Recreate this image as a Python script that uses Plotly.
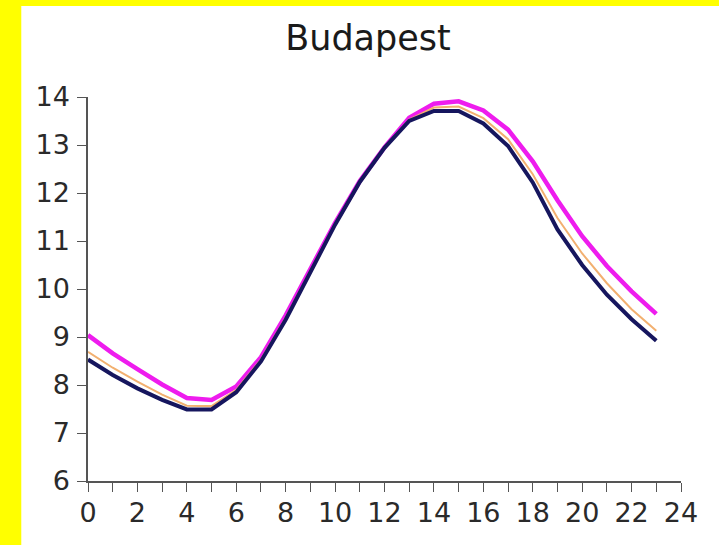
import plotly.graph_objects as go

hours = list(range(24))

# hourly mean values, three series
series_a = [9.04, 8.66, 8.33, 8.01, 7.73, 7.69, 7.97, 8.58, 9.45, 10.42, 11.38, 12.25, 12.95,
            13.57, 13.86, 13.91, 13.72, 13.32, 12.66, 11.85, 11.10, 10.48, 9.95, 9.48]
series_b = [8.69, 8.36, 8.07, 7.80, 7.57, 7.56, 7.90, 8.53, 9.40, 10.38, 11.36, 12.24, 12.95,
            13.53, 13.78, 13.80, 13.56, 13.12, 12.39, 11.48, 10.74, 10.12, 9.58, 9.13]
series_c = [8.53, 8.21, 7.93, 7.69, 7.49, 7.49, 7.85, 8.49, 9.36, 10.35, 11.34, 12.23, 12.94,
            13.50, 13.71, 13.71, 13.45, 12.98, 12.22, 11.24, 10.50, 9.88, 9.37, 8.92]

x_ticks = list(range(0, 25, 2))
y_ticks = list(range(6, 15))

fig = go.Figure()
fig.add_trace(go.Scatter(x=hours, y=series_a, mode="lines",
                         line=dict(color="#ee1cee", width=4.5)))
fig.add_trace(go.Scatter(x=hours, y=series_b, mode="lines",
                         line=dict(color="#f2b070", width=2)))
fig.add_trace(go.Scatter(x=hours, y=series_c, mode="lines",
                         line=dict(color="#16165e", width=4)))

axis_font = dict(family="DejaVu Sans", size=27, color="#2a2a2a")

# plot area spans 631 x 384 px inside a 719 x 545 page
pw, ph = 631, 384
frame = dict(type="rect", xref="paper", yref="paper", layer="below",
             fillcolor="#ffff00", line=dict(width=0))

fig.update_layout(
    width=719, height=545,
    paper_bgcolor="#ffffff",
    plot_bgcolor="#ffffff",
    showlegend=False,
    margin=dict(l=88, r=38, t=97, b=64, autoexpand=False),
    title=dict(text="Budapest", x=(17 + 719) / 2 / 719, xanchor="center",
               y=1 - 38 / 545, yanchor="middle",
               font=dict(family="DejaVu Sans", size=35, color="#1a1a1a")),
    shapes=[
        # left band
        dict(frame, x0=-100 / pw, x1=-71 / pw, y0=-80 / ph, y1=1 + 120 / ph),
        # top band
        dict(frame, x0=-100 / pw, x1=1 + 60 / pw, y0=1 + 91 / ph, y1=1 + 120 / ph),
    ],
    xaxis=dict(range=[0, 24], tickvals=x_ticks, ticks="outside", ticklen=9,
               tickcolor="#555555", tickwidth=1.3, showgrid=False, zeroline=False,
               showline=True, linecolor="#555555", linewidth=1.5,
               tickfont=axis_font, ticklabelstandoff=-2,
               minor=dict(dtick=1, ticks="outside", ticklen=9, tickcolor="#555555",
                          tickwidth=1.3, showgrid=False)),
    yaxis=dict(range=[6, 14], tickvals=y_ticks, ticks="outside", ticklen=9,
               tickcolor="#555555", tickwidth=1.3, showgrid=False, zeroline=False,
               showline=True, linecolor="#555555", linewidth=1.5,
               tickfont=axis_font, ticklabelstandoff=2),
)

fig.write_html("out.html")
